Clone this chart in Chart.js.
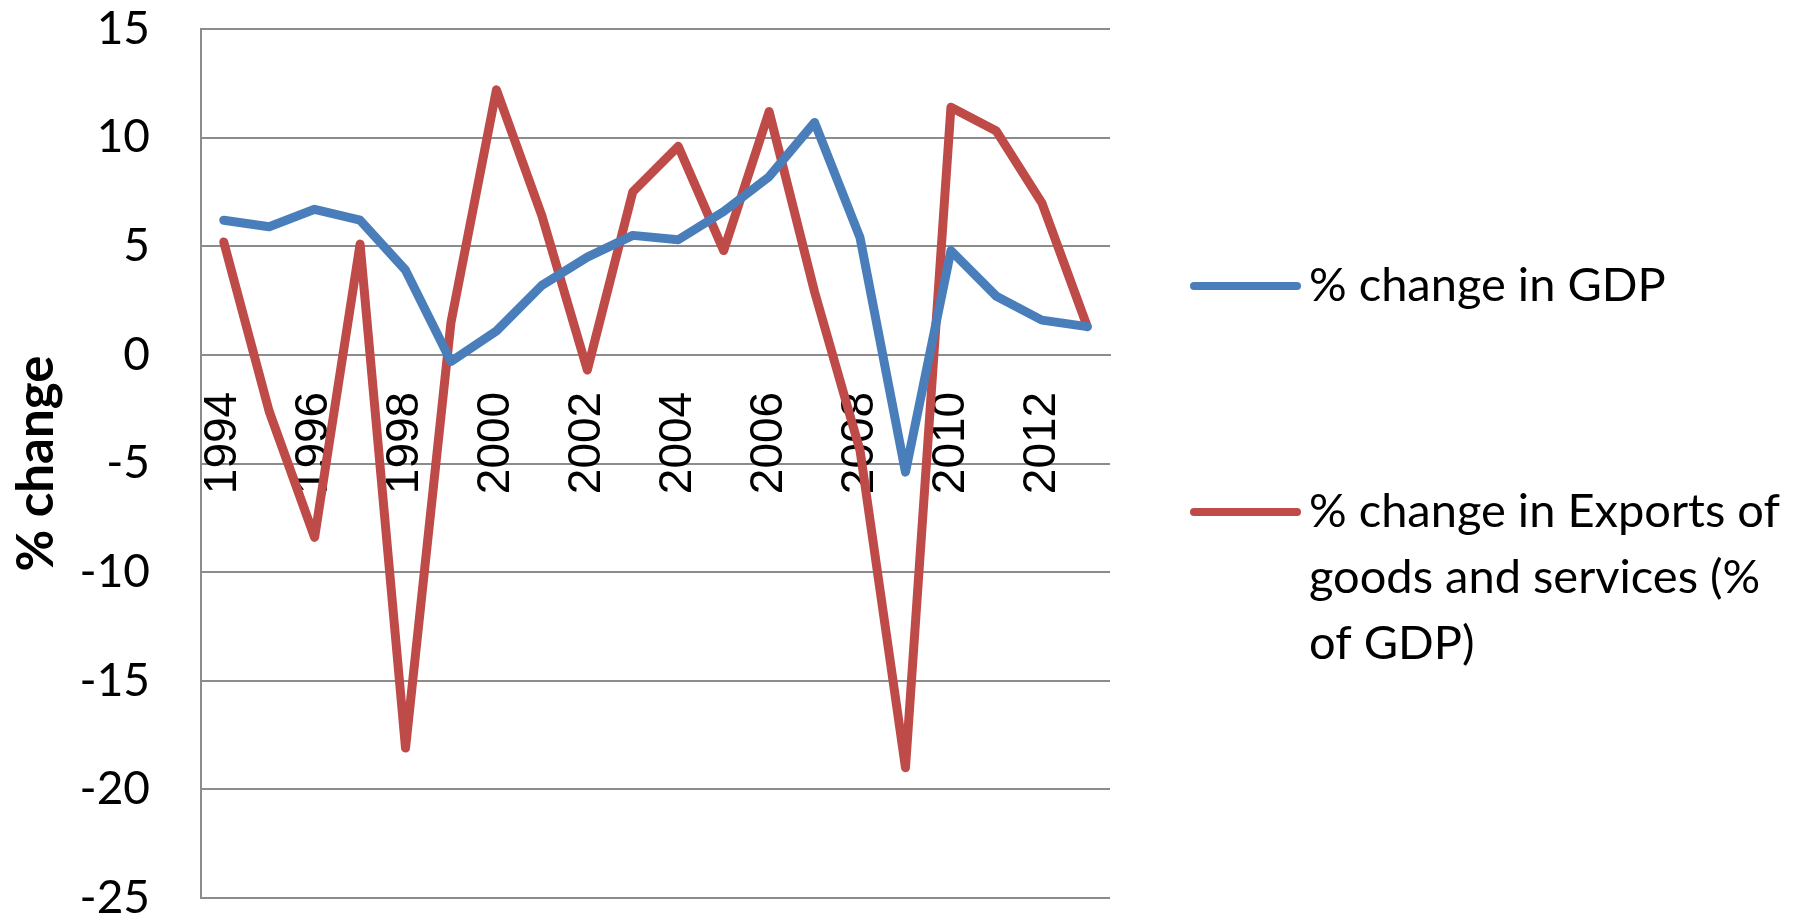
<!DOCTYPE html>
<html>
<head>
<meta charset="utf-8">
<script src="https://cdn.jsdelivr.net/npm/chart.js@4.4.1/dist/chart.umd.min.js"></script>
<style>
  html, body { margin: 0; padding: 0; background: #fff; }
  #wrap { width: 1810px; height: 917px; position: relative; }
</style>
</head>
<body>
<div id="wrap"><canvas id="chart"></canvas></div>
<script>
// data
const years = ['1994', '1995', '1996', '1997', '1998', '1999', '2000', '2001', '2002', '2003',
               '2004', '2005', '2006', '2007', '2008', '2009', '2010', '2011', '2012', '2013'];
const gdpChange = [6.2, 5.9, 6.7, 6.2, 3.9, -0.3, 1.1, 3.2, 4.5, 5.5,
                   5.3, 6.6, 8.2, 10.7, 5.4, -5.4, 4.8, 2.7, 1.6, 1.3];
const exportsChange = [5.2, -2.6, -8.4, 5.1, -18.1, 1.5, 12.2, 6.4, -0.7, 7.5,
                       9.6, 4.8, 11.2, 2.9, -4.4, -19.0, 11.4, 10.3, 7.0, 1.3];
const seriesNames = ['% change in GDP', '% change in Exports of goods and services (% of GDP)'];
const legendLines = [
  ['% change in GDP'],
  ['% change in Exports of', 'goods and services (%', 'of GDP)']
];
const yMin = -25, yMax = 15, yStep = 5;
const yTitle = '% change';

const BLUE = '#4a7ebb';
const RED = '#be4b48';
const GRID = '#8c8c8c';

// legend drawn at the right, text wrapped like the original
const sideLegend = {
  id: 'sideLegend',
  afterDraw(chart) {
    const ctx = chart.ctx;
    const rowY = [286, 512];
    ctx.save();
    chart.data.datasets.forEach((ds, i) => {
      const y = rowY[i];
      ctx.strokeStyle = ds.borderColor;
      ctx.lineWidth = 8;
      ctx.lineCap = 'round';
      ctx.beginPath();
      ctx.moveTo(1194, y);
      ctx.lineTo(1297, y);
      ctx.stroke();
      ctx.fillStyle = '#000';
      ctx.font = '47px Lato';
      ctx.textBaseline = 'middle';
      ctx.textAlign = 'left';
      legendLines[i].forEach((line, j) => {
        ctx.fillText(line, 1309, y + j * 66);
      });
    });
    ctx.restore();
  }
};

new Chart(document.getElementById('chart'), {
  type: 'line',
  data: {
    labels: years,
    datasets: [
      {
        label: seriesNames[0],
        data: gdpChange,
        borderColor: BLUE,
        backgroundColor: BLUE,
        borderWidth: 9,
        pointRadius: 0,
        tension: 0,
        borderJoinStyle: 'round',
        borderCapStyle: 'round'
      },
      {
        label: seriesNames[1],
        data: exportsChange,
        borderColor: RED,
        backgroundColor: RED,
        borderWidth: 9,
        pointRadius: 0,
        tension: 0,
        borderJoinStyle: 'round',
        borderCapStyle: 'round'
      }
    ]
  },
  options: {
    responsive: true,
    maintainAspectRatio: false,
    animation: false,
    devicePixelRatio: 1,
    layout: { padding: { left: 0, top: 29, right: 700, bottom: 19 } },
    plugins: {
      legend: { display: false },
      tooltip: { enabled: false }
    },
    scales: {
      x: {
        type: 'category',
        position: { y: 0 },
        offset: true,
        afterFit: (s) => { s.height = 0; },
        grid: { display: false, drawTicks: false },
        border: { display: true, color: GRID, width: 2 },
        ticks: {
          autoSkip: false,
          maxRotation: 90,
          minRotation: 90,
          padding: 37,
          color: '#000',
          font: { family: 'Liberation Sans', size: 46 },
          callback: (val, idx) => idx % 2 === 0 ? years[idx] : ''
        }
      },
      y: {
        min: yMin,
        max: yMax,
        afterFit: (s) => { s.width = 201; },
        // gap between labels and axis made with invisible tick marks
        grid: { color: GRID, lineWidth: 2, drawTicks: true, tickLength: 51, tickColor: 'rgba(0,0,0,0)' },
        border: { display: true, color: GRID, width: 2 },
        ticks: {
          stepSize: yStep,
          padding: 0,
          color: '#000',
          font: { family: 'Lato', size: 46, lineHeight: 0.8 }
        },
        title: {
          display: true,
          text: yTitle,
          color: '#000',
          padding: { top: 6, bottom: 0 },
          font: { family: 'Lato', size: 51, weight: 'bold' }
        }
      }
    }
  },
  plugins: [sideLegend]
});
</script>
</body>
</html>
